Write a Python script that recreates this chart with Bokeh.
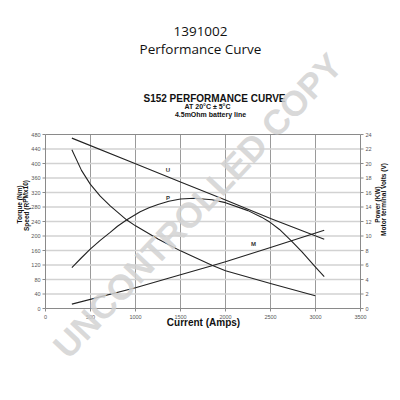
from bokeh.plotting import figure
from bokeh.models import Range1d, Label
from bokeh.embed import file_html
from bokeh.resources import INLINE

# Current (A) against each characteristic
current_speed = [293, 400, 497, 608, 719, 904, 1000, 1250, 1500, 1849, 2000, 2500, 2997]
speed_rpm_x10 = [438, 381, 343, 310, 283, 244, 228, 192, 159, 119, 104, 69, 35]

current_torque = [293, 1000, 1500, 1849, 2000, 2500, 3097]
torque_nm = [12, 57, 93, 118, 129, 168, 216]

current_power = [293, 400, 497, 608, 719, 800, 904, 1052, 1150, 1250, 1370, 1500, 1650, 1850, 2000,
                 2250, 2400, 2500, 2600, 2726, 2850, 3000, 3097]
power_kw = [5.65, 7.0, 8.2, 9.4, 10.5, 11.35, 12.25, 13.35, 13.9, 14.35, 14.8, 15.1, 15.2, 15.0, 14.6,
            13.5, 12.6, 11.85, 10.9, 9.4, 7.8, 5.7, 4.4]

current_volts = [293, 1000, 1500, 2000, 2500, 3097]
terminal_volts = [23.5, 19.95, 17.45, 14.95, 12.4, 9.55]

x_ticks = [0, 500, 1000, 1500, 2000, 2500, 3000, 3500]
left_ticks = list(range(0, 481, 40))
right_ticks = list(range(0, 25, 2))

X_MAX, Y_MAX, R_MAX = 3500, 480, 24

FONT = "Liberation Sans"
W, H = 400, 400
# chart box inside the page (pixels from the top-left corner)
BOX_L, BOX_R, BOX_T, BOX_B = 45, 360, 134, 308
ux = X_MAX / (BOX_R - BOX_L)      # amps per pixel
uy = Y_MAX / (BOX_B - BOX_T)      # left-axis units per pixel
ry = Y_MAX / R_MAX                # left units per right unit

p = figure(width=W, height=H, output_backend="svg", toolbar_location=None,
           x_range=Range1d(-BOX_L * ux, X_MAX + (W - BOX_R) * ux),
           y_range=Range1d(-(H - BOX_B) * uy, Y_MAX + BOX_T * uy),
           x_axis_location=None, y_axis_location=None, min_border=0,
           outline_line_color=None,
           background_fill_color="white", border_fill_color="white")
p.extra_y_ranges = {"right": Range1d(-(H - BOX_B) * uy / ry, (Y_MAX + BOX_T * uy) / ry)}
p.grid.visible = False

AXIS_C = "#8a8a8a"
TICK_C = "#555555"

# grid lines
inner_x = [t for t in x_ticks if 0 < t < X_MAX]
p.segment(x0=inner_x, y0=[0] * len(inner_x), x1=inner_x, y1=[Y_MAX] * len(inner_x),
          line_color="#9a9a9a", line_width=1)
inner_y = [t for t in left_ticks if 0 < t < Y_MAX]
p.segment(x0=[0] * len(inner_y), y0=inner_y, x1=[X_MAX] * len(inner_y), y1=inner_y,
          line_color="#d2d2d2", line_width=1.6)

# box / axis lines
p.segment(x0=[0, 0, 0, X_MAX], y0=[0, 0, Y_MAX, 0], x1=[X_MAX, 0, X_MAX, X_MAX], y1=[0, Y_MAX, Y_MAX, Y_MAX],
          line_color=AXIS_C, line_width=1)

# tick marks
tick_len = 3
p.segment(x0=x_ticks, y0=[0] * len(x_ticks), x1=x_ticks, y1=[-tick_len * uy] * len(x_ticks),
          line_color=AXIS_C, line_width=1)
p.segment(x0=[0] * len(left_ticks), y0=left_ticks, x1=[-tick_len * ux] * len(left_ticks), y1=left_ticks,
          line_color=AXIS_C, line_width=1)
p.segment(x0=[X_MAX] * len(right_ticks), y0=right_ticks, x1=[X_MAX + tick_len * ux] * len(right_ticks),
          y1=right_ticks, y_range_name="right", line_color=AXIS_C, line_width=1)

# tick labels
tick_font = dict(text_font_size="5.5px", text_color=TICK_C)
p.text(x=x_ticks, y=[0] * len(x_ticks), text=[str(t) for t in x_ticks], y_offset=8,
       text_align="center", text_baseline="middle", **tick_font)
p.text(x=[0] * len(left_ticks), y=left_ticks, text=[str(t) for t in left_ticks], x_offset=-5,
       text_align="right", text_baseline="middle", **tick_font)
p.text(x=[X_MAX] * len(right_ticks), y=right_ticks, text=[str(t) for t in right_ticks], x_offset=5,
       y_range_name="right", text_align="left", text_baseline="middle", **tick_font)

# characteristic curves
line_kw = dict(line_color="#222222", line_width=1.1, line_join="round")
p.line(current_speed, speed_rpm_x10, **line_kw)
p.line(current_torque, torque_nm, **line_kw)
p.line(current_power, power_kw, y_range_name="right", **line_kw)
p.line(current_volts, terminal_volts, y_range_name="right", **line_kw)

# curve tags
for tx, ty, t in [(1360, 381, "U"), (1360, 306, "P"), (2311, 177, "M")]:
    p.add_layout(Label(x=tx, y=ty, text=t, text_font=FONT, text_font_style="bold",
                       text_font_size="6px", text_color="#333333",
                       text_align="center", text_baseline="middle"))

def page_label(x, y, text, size, bold=False, font=FONT, angle=0.0, color="#111111", alpha=1.0):
    # x, y are page pixels from the top-left corner
    p.add_layout(Label(x=x, y=H - y, x_units="screen", y_units="screen",
                       text=text, text_font=font, text_font_size=size,
                       text_font_style="bold" if bold else "normal",
                       text_color=color, text_alpha=alpha, angle=angle,
                       text_align="center", text_baseline="middle"))

page_label(200, 31, "1391002", "13.5px", font="Open Sans")
page_label(200, 48, "Performance Curve", "13.5px", font="Open Sans")
page_label(214, 98, "S152 PERFORMANCE CURVE", "10px", bold=True)
page_label(207, 106, "AT 20°C ± 5°C", "7px", bold=True)
page_label(210, 114, "4.5mOhm battery line", "7px", bold=True)
page_label(203, 322, "Current (Amps)", "10px", bold=True)
page_label(19, 204, "Torque (Nm)", "6.5px", bold=True, angle=1.5708)
page_label(25.5, 205, "Speed (RPMx10)", "6.5px", bold=True, angle=1.5708)
page_label(377, 204, "Power (KW)", "6.5px", bold=True, angle=1.5708)
page_label(383, 199, "Motor terminal Volts (V)", "6.5px", bold=True, angle=1.5708)

# watermark
page_label(197, 205, "UNCONTROLLED COPY", "35px", bold=True, angle=0.815,
           color="#d2d2d2", alpha=0.85)

open("out.html", "w").write(file_html(p, INLINE))
